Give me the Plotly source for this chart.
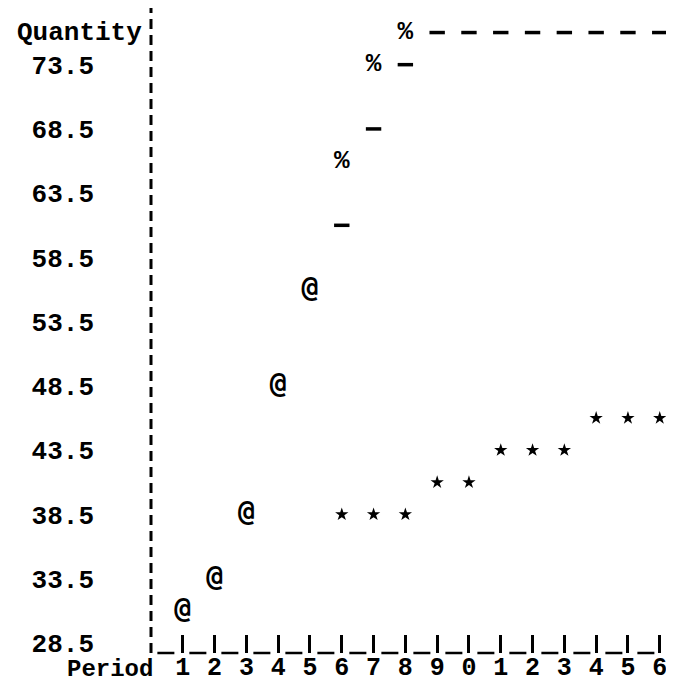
import plotly.graph_objects as go

# ---- data ----
periods_actual = [1, 2, 3, 4, 5]
actual = [31.0, 33.5, 38.5, 48.5, 56.0]           # '@'

periods_star = [6, 7, 8, 9, 10, 11, 12, 13, 14, 15, 16]
star = [38.5, 38.5, 38.5, 41.0, 41.0, 43.5, 43.5, 43.5, 46.0, 46.0, 46.0]   # '*'

periods_pct = [6, 7, 8]
pct = [66.0, 73.5, 76.0]                           # '%'

periods_dash = [6, 7, 8, 9, 10, 11, 12, 13, 14, 15, 16]
dash = [61.0, 68.5, 73.5, 76.0, 76.0, 76.0, 76.0, 76.0, 76.0, 76.0, 76.0]  # '-'

x_ticks = list(range(1, 17))
x_ticktext = ["1", "2", "3", "4", "5", "6", "7", "8", "9", "0", "1", "2", "3", "4", "5", "6"]
y_ticks = [73.5, 68.5, 63.5, 58.5, 53.5, 48.5, 43.5, 38.5, 33.5, 28.5]
y_ticktext = ["73.5", "68.5", "63.5", "58.5", "53.5", "48.5", "43.5", "38.5", "33.5", "28.5"]

FONT = "Liberation Mono"
FS = 26

fig = go.Figure()

# '@' actual values (text glyph)
fig.add_trace(go.Scatter(
    x=periods_actual, y=actual, mode="text", text=["@"] * len(periods_actual),
    textposition="middle center",
    textfont=dict(family="DejaVu Sans Mono", size=28, color="black", weight="bold"),
    showlegend=False))
# '*' series as small filled stars
fig.add_trace(go.Scatter(
    x=periods_star, y=star, mode="markers",
    marker=dict(symbol="star", size=10, color="black", line=dict(width=0)),
    showlegend=False))
# '%' series (text glyph)
fig.add_trace(go.Scatter(
    x=periods_pct, y=pct, mode="text", text=["%"] * len(periods_pct),
    textposition="middle center",
    textfont=dict(family=FONT, size=FS, color="black", weight="bold"),
    showlegend=False))
# '-' series as short thick horizontal strokes
fig.add_trace(go.Scatter(
    x=periods_dash, y=dash, mode="markers",
    marker=dict(symbol="line-ew", size=11, color="black",
                line=dict(width=3.5, color="black")),
    showlegend=False))

# dashed y axis line and x baseline
fig.add_shape(type="line", xref="paper", yref="paper", x0=0, x1=0, y0=0, y1=1,
              line=dict(color="black", width=3, dash="10px,6px"))
fig.add_shape(type="line", xref="paper", yref="paper", x0=0.012, x1=1, y0=0, y1=0,
              line=dict(color="black", width=2.5, dash="17px,15px"))

fig.add_annotation(text="Quantity", xref="paper", x=0, xanchor="right", xshift=-7,
                   yref="y", y=76.0, yanchor="middle", showarrow=False,
                   font=dict(family=FONT, size=FS, color="black", weight="bold"))
fig.add_annotation(text="Period", xref="paper", x=0, xanchor="right", xshift=3,
                   yref="paper", y=0, yanchor="bottom", yshift=-31, borderpad=0,
                   showarrow=False,
                   font=dict(family=FONT, size=24, color="black", weight="bold"))

fig.update_layout(
    width=674, height=682,
    margin=dict(l=143, r=0, t=0, b=37),
    paper_bgcolor="white", plot_bgcolor="white",
    xaxis=dict(range=[0, 16.7], showgrid=False, zeroline=False, showline=False,
               tickmode="array", tickvals=x_ticks, ticktext=x_ticktext,
               ticks="inside", ticklen=18, tickwidth=2.5, tickcolor="black",
               ticklabelstandoff=-4,
               tickfont=dict(family=FONT, size=25, color="black", weight="bold")),
    yaxis=dict(range=[27.72, 77.91], showgrid=False, zeroline=False, showline=False,
               tickmode="array", tickvals=y_ticks, ticktext=y_ticktext,
               ticks="", ticklabelstandoff=56,
               tickfont=dict(family=FONT, size=FS, color="black", weight="bold")),
)

fig.write_html("out.html")
